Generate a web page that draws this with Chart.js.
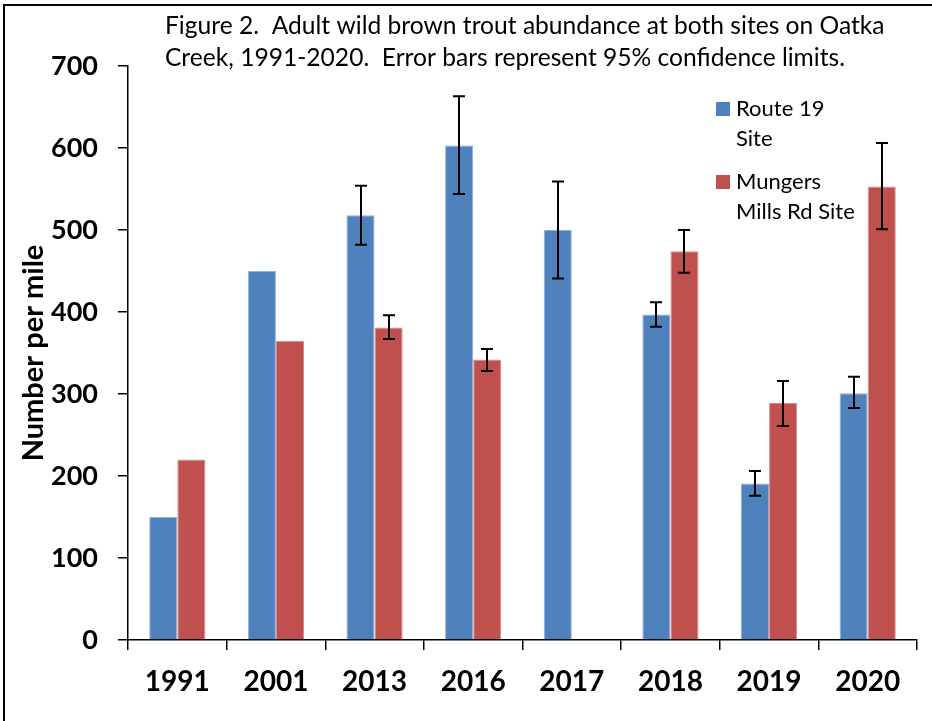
<!DOCTYPE html>
<html>
<head>
<meta charset="utf-8">
<script src="https://cdn.jsdelivr.net/npm/chart.js@4"></script>
<style>
  html, body { margin: 0; padding: 0; background: #fff; }
  canvas { display: block; }
</style>
</head>
<body>
<canvas id="c" width="932" height="721"></canvas>
<script>
// ---- data ----
const years = ['1991', '2001', '2013', '2016', '2017', '2018', '2019', '2020'];
const route19 = [150, 450, 518, 603, 500, 397, 191, 301];
const route19Lo = [null, null, 482, 544, 441, 382, 176, 283];
const route19Hi = [null, null, 554, 663, 559, 412, 206, 321];
const mungers = [220, 365, 381, 342, null, 474, 289, 553];
const mungersLo = [null, null, 367, 328, null, 448, 261, 501];
const mungersHi = [null, null, 396, 355, null, 500, 316, 606];
const yMin = 0, yMax = 700, yStep = 100;
const titleLines = [
  'Figure 2.  Adult wild brown trout abundance at both sites on Oatka',
  'Creek, 1991-2020.  Error bars represent 95% confidence limits.'
];
const legendLines = [['Route 19', 'Site'], ['Mungers', 'Mills Rd Site']];
const yTitle = 'Number per mile';

const BLUE = '#4F81BD', RED = '#C0504D';
const errLo = [route19Lo, mungersLo];
const errHi = [route19Hi, mungersHi];

const framePlugin = {
  id: 'frame',
  beforeDraw(chart) {
    const ctx = chart.ctx;
    ctx.save();
    ctx.fillStyle = '#fff';
    ctx.fillRect(0, 0, chart.width, chart.height);
    ctx.strokeStyle = '#000';
    ctx.lineWidth = 2;
    ctx.beginPath();
    ctx.moveTo(4, chart.height);
    ctx.lineTo(4, 5);
    ctx.lineTo(chart.width, 5);
    ctx.stroke();
    ctx.restore();
  }
};

const errorBarPlugin = {
  id: 'errorBars',
  afterDatasetsDraw(chart) {
    const ctx = chart.ctx;
    const y = chart.scales.y;
    ctx.save();
    ctx.strokeStyle = '#000';
    ctx.lineWidth = 2;
    chart.data.datasets.forEach((ds, d) => {
      const meta = chart.getDatasetMeta(d);
      meta.data.forEach((bar, i) => {
        const lo = errLo[d][i], hi = errHi[d][i];
        if (lo == null || hi == null) return;
        const x = Math.round(bar.x);
        const yl = y.getPixelForValue(lo), yh = y.getPixelForValue(hi);
        const cap = 6;
        ctx.beginPath();
        ctx.moveTo(x, yl); ctx.lineTo(x, yh);
        ctx.moveTo(x - cap, yl); ctx.lineTo(x + cap, yl);
        ctx.moveTo(x - cap, yh); ctx.lineTo(x + cap, yh);
        ctx.stroke();
      });
    });
    ctx.restore();
  }
};

const textPlugin = {
  id: 'texts',
  afterDraw(chart) {
    const ctx = chart.ctx;
    ctx.save();
    ctx.fillStyle = '#000';
    ctx.textBaseline = 'middle';
    ctx.textAlign = 'left';
    ctx.font = '24.6px Lato';
    ctx.fillText(titleLines[0], 165, 26);
    ctx.fillText(titleLines[1], 165, 58);
    // legend
    const colors = chart.data.datasets.map(ds => ds.backgroundColor);
    const tops = [102, 175];
    ctx.font = '22px Lato';
    legendLines.forEach((lines, k) => {
      ctx.fillStyle = colors[k];
      ctx.fillRect(716, tops[k], 14, 14);
      ctx.fillStyle = '#000';
      lines.forEach((t, j) => ctx.fillText(t, 736, tops[k] + 7 + j * 30));
    });
    ctx.restore();
  }
};

new Chart(document.getElementById('c'), {
  type: 'bar',
  data: {
    labels: years,
    datasets: [
      { label: 'Route 19 Site', data: route19, backgroundColor: BLUE, borderColor: '#8FB0DA', borderWidth: 1 },
      { label: 'Mungers Mills Rd Site', data: mungers, backgroundColor: RED, borderColor: '#DA8A88', borderWidth: 1 }
    ]
  },
  options: {
    responsive: false,
    devicePixelRatio: 1,
    animation: false,
    layout: { padding: { top: 66, right: 15, bottom: 0, left: 0 } },
    datasets: { bar: { categoryPercentage: 0.57, barPercentage: 1.0 } },
    plugins: { legend: { display: false }, title: { display: false }, tooltip: { enabled: false } },
    scales: {
      x: {
        grid: { display: true, drawOnChartArea: false, drawTicks: true, tickLength: 10, color: '#000', lineWidth: 1.5, offset: true },
        border: { display: true, color: '#000', width: 1.5 },
        ticks: { color: '#000', font: { family: 'Lato', weight: 'bold', size: 28 }, padding: 15, maxRotation: 0 },
        afterFit(s) { s.height = 81; }
      },
      y: {
        min: yMin, max: yMax,
        grid: { display: true, drawOnChartArea: false, drawTicks: true, tickLength: 10, color: '#000', lineWidth: 1.5 },
        border: { display: true, color: '#000', width: 1.5 },
        ticks: { stepSize: yStep, color: '#000', font: { family: 'Lato', weight: 'bold', size: 27 }, padding: 20 },
        title: { display: true, text: yTitle, color: '#000', font: { family: 'Lato', weight: 'bold', size: 29 }, padding: { top: 16, bottom: 0 } },
        afterFit(s) { s.width = 128; }
      }
    }
  },
  plugins: [framePlugin, errorBarPlugin, textPlugin]
});
</script>
</body>
</html>
